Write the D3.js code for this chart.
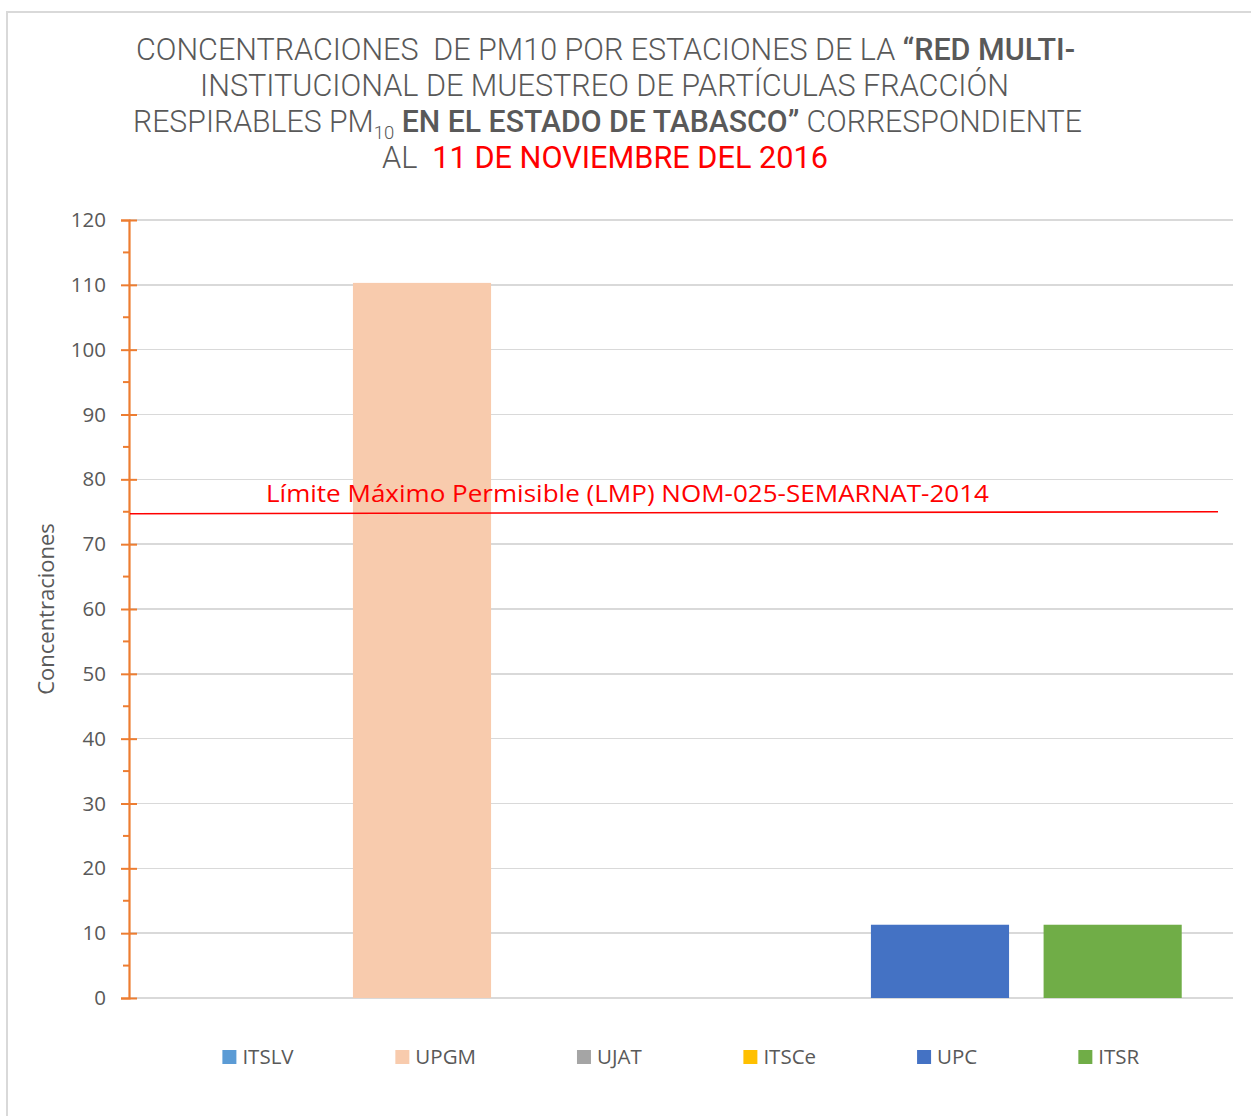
<!DOCTYPE html>
<meta charset="utf-8">
<style>
html, body { margin: 0; background: #fff; }
text { font-family: "Open Sans", sans-serif; }
.tick-label { fill: #595959; font-size: 20.5px; }
.grid line { stroke: #d9d9d9; stroke-width: 1.5; shape-rendering: crispEdges; }
.title { fill: #595959; font-family: Roboto, sans-serif; font-weight: 300; font-size: 31px; white-space: pre; }
.legend text { fill: #595959; font-size: 20.5px; }
</style>
<body></body>
<script src="https://d3js.org/d3.v7.min.js"></script>
<script>
// data
var stations = ["ITSLV", "UPGM", "UJAT", "ITSCe", "UPC", "ITSR"];
var values = [0, 110.3, 0, 0, 11.3, 11.3];
var colors = ["#5b9bd5", "#f8cbad", "#a5a5a5", "#ffc000", "#4472c4", "#70ad47"];
var yTicks = [0, 10, 20, 30, 40, 50, 60, 70, 80, 90, 100, 110, 120];
var lmp = [74.7, 75.0]; // limit line, left and right end
var lmpLabel = "Límite Máximo Permisible (LMP) NOM-025-SEMARNAT-2014";

var W = 1251, H = 1116;
var plot = {left: 129, right: 1233, top: 220, bottom: 998};

var svg = d3.select("body").append("svg")
    .attr("width", W).attr("height", H);

// chart frame
svg.append("path")
    .attr("d", "M7," + H + "V12H" + W)
    .attr("fill", "none").attr("stroke", "#d9d9d9").attr("stroke-width", 2);

var x = d3.scaleBand()
    .domain(stations)
    .range([plot.left, plot.right])
    .paddingInner(0.2)
    .paddingOuter(0.297);

var y = d3.scaleLinear()
    .domain([0, 120])
    .range([plot.bottom, plot.top]);

// gridlines
svg.append("g").attr("class", "grid")
  .selectAll("line").data(yTicks).join("line")
    .attr("x1", plot.left).attr("x2", plot.right)
    .attr("y1", d => y(d)).attr("y2", d => y(d));

// bars
svg.append("g").selectAll("rect").data(stations).join("rect")
    .attr("x", d => x(d))
    .attr("width", x.bandwidth())
    .attr("y", (d, i) => y(values[i]))
    .attr("height", (d, i) => y(0) - y(values[i]))
    .attr("fill", (d, i) => colors[i]);

// y axis (orange)
var yAxis = svg.append("g")
    .attr("transform", "translate(" + plot.left + ",0)")
    .call(d3.axisLeft(y).tickValues(yTicks).tickSize(8).tickPadding(15));
yAxis.select(".domain").attr("stroke", "#ed7d31").attr("stroke-width", 2.2);
yAxis.selectAll(".tick line").attr("stroke", "#ed7d31").attr("stroke-width", 2).attr("x2", 8).attr("x1", -8);
yAxis.selectAll(".tick text").attr("class", "tick-label").attr("font-family", null).attr("font-size", null);

// minor ticks
svg.append("g").selectAll("line").data(d3.range(5, 120, 10)).join("line")
    .attr("x1", plot.left - 6).attr("x2", plot.left)
    .attr("y1", d => y(d)).attr("y2", d => y(d))
    .attr("stroke", "#ed7d31").attr("stroke-width", 2);

// y axis title
svg.append("text")
    .attr("transform", "translate(54," + ((plot.top + plot.bottom) / 2) + ") rotate(-90)")
    .attr("text-anchor", "middle")
    .attr("fill", "#595959").attr("font-size", 22)
    .text("Concentraciones");

// LMP line
svg.append("line")
    .attr("x1", plot.left + 1).attr("x2", 1218)
    .attr("y1", y(lmp[0])).attr("y2", y(lmp[1]))
    .attr("stroke", "#ff0000").attr("stroke-width", 1.6);
svg.append("text")
    .attr("x", 266).attr("y", 502)
    .attr("fill", "#ff0000").attr("font-size", 23)
    .attr("textLength", 723).attr("lengthAdjust", "spacingAndGlyphs")
    .text(lmpLabel);

// title
var t1 = svg.append("text").attr("class", "title").attr("x", 136).attr("y", 60)
    .attr("textLength", 939).attr("lengthAdjust", "spacingAndGlyphs");
t1.append("tspan").text("CONCENTRACIONES  DE PM10 POR ESTACIONES DE LA ");
t1.append("tspan").attr("font-weight", 500).text("“RED MULTI-");

svg.append("text").attr("class", "title").attr("x", 200).attr("y", 96)
    .attr("textLength", 809).attr("lengthAdjust", "spacingAndGlyphs")
    .text("INSTITUCIONAL DE MUESTREO DE PARTÍCULAS FRACCIÓN");

var t3 = svg.append("text").attr("class", "title").attr("x", 133).attr("y", 132)
    .attr("textLength", 949).attr("lengthAdjust", "spacingAndGlyphs");
t3.append("tspan").text("RESPIRABLES PM");
t3.append("tspan").attr("font-size", 19).attr("dy", 7).text("10");
t3.append("tspan").attr("dy", -7).attr("font-weight", 500).text(" EN EL ESTADO DE TABASCO”");
t3.append("tspan").text(" CORRESPONDIENTE");

var t4 = svg.append("text").attr("class", "title").attr("x", 382).attr("y", 168)
    .attr("textLength", 446).attr("lengthAdjust", "spacingAndGlyphs");
t4.append("tspan").text("AL  ");
t4.append("tspan").attr("fill", "#ff0000").attr("font-weight", 400).text("11 DE NOVIEMBRE DEL 2016");

// legend
var legend = svg.append("g").attr("class", "legend");
var items = legend.selectAll("g").data(stations).join("g");
items.append("rect").attr("width", 14).attr("height", 14).attr("y", -14)
    .attr("fill", (d, i) => colors[i]);
items.append("text").attr("x", 20).attr("y", 0).text(d => d);
var pos = 0, widths = [];
items.each(function () { widths.push(this.getBBox().width); });
var total = d3.sum(widths) + 101 * (stations.length - 1);
var start = (plot.left + plot.right) / 2 - total / 2;
items.attr("transform", function (d, i) {
    var tx = start + pos;
    pos += widths[i] + 101;
    return "translate(" + tx + ",1064)";
});
</script>
